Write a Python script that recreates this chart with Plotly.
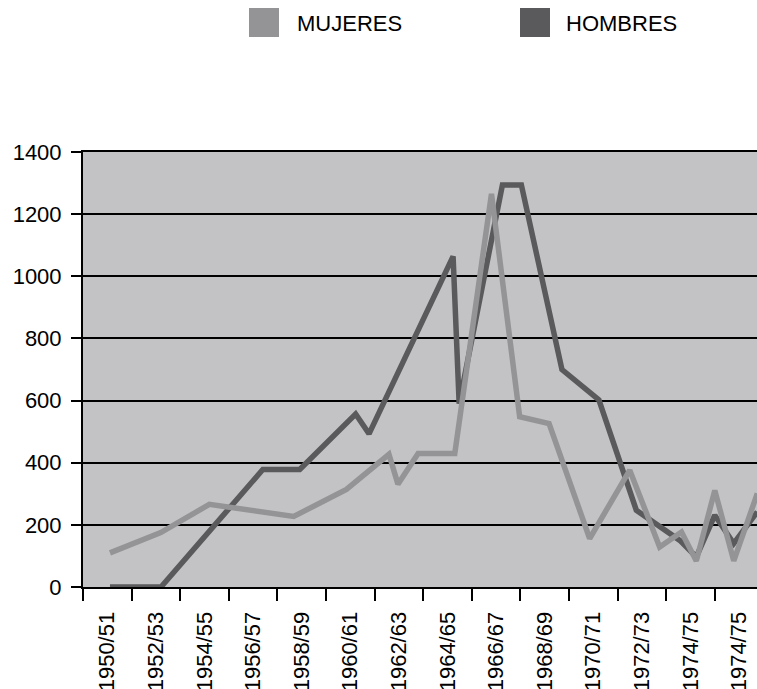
import plotly.graph_objects as go

# ---------------- data ----------------
label_years = [1950, 1952, 1954, 1956, 1958, 1960, 1962, 1964, 1966, 1968, 1970, 1972, 1974, 1976]
tick_labels = ["1950/51", "1952/53", "1954/55", "1956/57", "1958/59", "1960/61", "1962/63",
               "1964/65", "1966/67", "1968/69", "1970/71", "1972/73", "1974/75", "1974/75"]
band_edges = [1949, 1951, 1953, 1955, 1957, 1959, 1961, 1963, 1965, 1967, 1969, 1971, 1973, 1975, 1977]

hombres_x = [1950.11, 1952.21, 1956.40, 1957.92, 1960.22, 1960.77, 1964.23, 1964.48, 1966.26,
             1967.04, 1968.71, 1970.23, 1971.77, 1973.56, 1974.24, 1975.00, 1975.78, 1976.75]
hombres_y = [0, 0, 378, 378, 557, 493, 1064, 590, 1294,
             1294, 700, 602, 247, 150, 97, 231, 140, 242]

mujeres_x = [1950.11, 1952.20, 1954.20, 1957.67, 1959.84, 1961.59, 1961.96, 1962.79, 1964.30,
             1965.81, 1966.97, 1968.18, 1969.85, 1971.50, 1972.73, 1973.63, 1974.24, 1975.00,
             1975.78, 1976.75]
mujeres_y = [110, 175, 266, 227, 314, 427, 331, 430, 430,
             1265, 548, 526, 156, 376, 129, 177, 84, 311,
             84, 301]

y_ticks = [0, 200, 400, 600, 800, 1000, 1200, 1400]

# ---------------- style ----------------
W, H = 757, 689
ML, MT = 83, 152
MB = H - 587
MR = 0
C_MUJ = "#949497"
C_HOM = "#5a5a5c"
BG = "#c3c3c5"
FONT = "Liberation Sans, Arial, Helvetica, sans-serif"
PX_PER_YEAR = 24.3


def paper_x(px):
    return (px - ML) / (W - ML - MR)


def paper_y(py):
    return (H - MB - py) / (H - MT - MB)


fig = go.Figure()
fig.add_trace(go.Scatter(x=hombres_x, y=hombres_y, mode="lines", name="HOMBRES",
                         line=dict(color=C_HOM, width=5.5), showlegend=False))
fig.add_trace(go.Scatter(x=mujeres_x, y=mujeres_y, mode="lines", name="MUJERES",
                         line=dict(color=C_MUJ, width=5.5), showlegend=False))

x_end = band_edges[0] + (W - ML - MR) / PX_PER_YEAR

fig.update_layout(
    width=W, height=H,
    margin=dict(l=ML, r=MR, t=MT, b=MB, pad=0),
    paper_bgcolor="white", plot_bgcolor=BG,
    showlegend=False,
    font=dict(family=FONT, size=22, color="black"),
    xaxis=dict(
        range=[band_edges[0], x_end],
        tickmode="array", tickvals=label_years, ticktext=tick_labels,
        tickangle=-90, ticks="outside", ticklen=12, tickwidth=2,
        tickcolor="rgba(0,0,0,0)",
        minor=dict(tickmode="array", tickvals=band_edges, ticks="outside",
                   ticklen=12, tickwidth=2, tickcolor="black", showgrid=False),
        showline=True, linecolor="black", linewidth=2, mirror=True,
        showgrid=False, zeroline=False, automargin=False,
        ticklabelstandoff=2,
        tickfont=dict(family=FONT, size=22, color="black"),
    ),
    yaxis=dict(
        range=[0, 1400], tickmode="array", tickvals=y_ticks,
        ticks="outside", ticklen=10, tickwidth=2, tickcolor="black",
        showline=True, linecolor="black", linewidth=2,
        showgrid=True, gridcolor="black", gridwidth=1.5,
        zeroline=False, automargin=False,
        ticklabelstandoff=5,
        tickfont=dict(family=FONT, size=22, color="black"),
    ),
)

# manual legend (square swatches), positions in page pixels
legend_items = [("MUJERES", C_MUJ, 249, 295), ("HOMBRES", C_HOM, 520, 564)]
for name, col, sx, tx in legend_items:
    fig.add_shape(type="rect", xref="paper", yref="paper",
                  x0=paper_x(sx), x1=paper_x(sx + 30),
                  y0=paper_y(37), y1=paper_y(8),
                  fillcolor=col, line=dict(width=0))
    fig.add_annotation(xref="paper", yref="paper", x=paper_x(tx), y=paper_y(23),
                       xanchor="left", yanchor="middle", showarrow=False,
                       text=name, font=dict(family=FONT, size=22, color="black"))

page_css = ("document.documentElement.style.overflow='hidden';"
            "document.body.style.margin='0';document.body.style.overflow='hidden';")
fig.write_html("out.html", post_script=page_css, config={"displayModeBar": False})
